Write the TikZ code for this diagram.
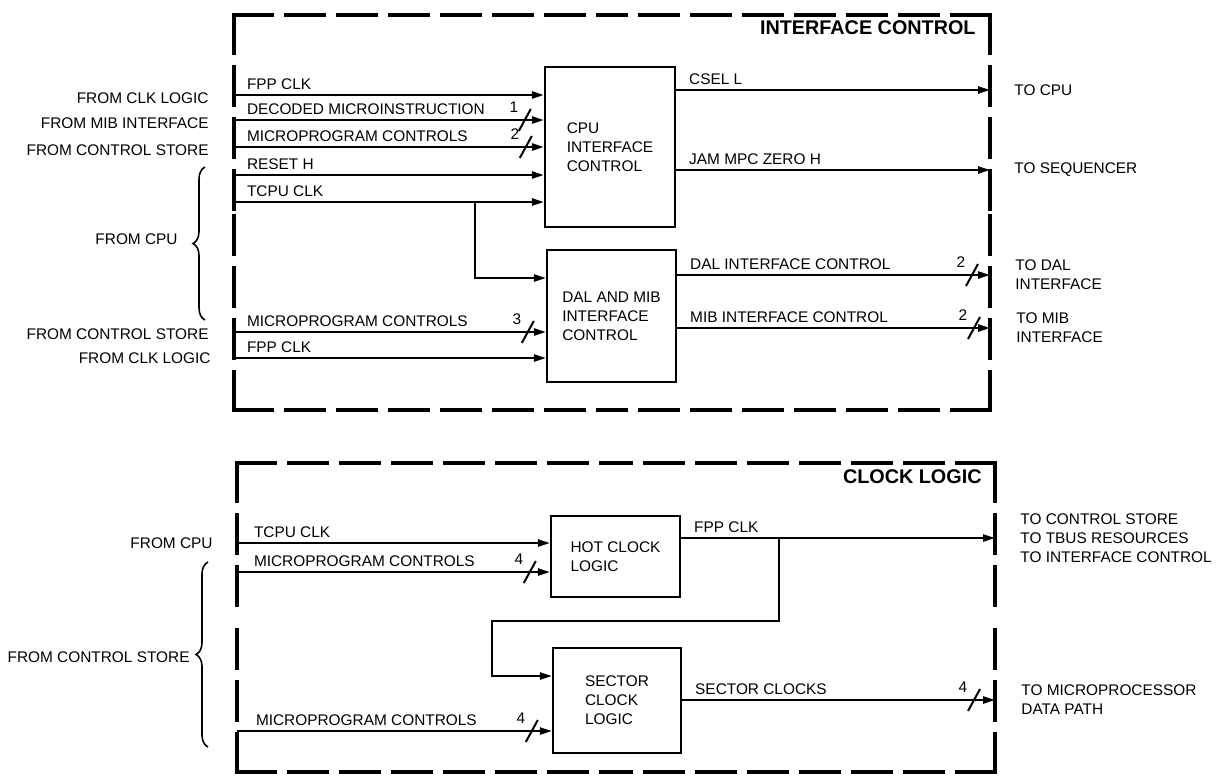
\documentclass[tikz,border=0pt]{standalone}
\usepackage{fontspec}
\setmainfont{Liberation Sans}
\usetikzlibrary{arrows.meta, positioning, calc, decorations.pathreplacing}

\newcommand{\lblfont}{\fontsize{7.7}{9.5}\selectfont}
\newcommand{\ttlfont}{\fontsize{9.9}{12}\selectfont\bfseries}

\begin{document}
\begin{tikzpicture}[x=0.5pt, y=-0.5pt,
  blk/.style={draw, line width=1.2pt, align=left, font=\lblfont, inner sep=0pt},
  frame/.style={line width=1.6pt, line cap=rect, dash pattern=on 19pt off 7pt},
  arr/.style={-{Triangle[length=6pt,width=3.6pt]}, line width=1pt},
  sig/.style={font=\lblfont, pos=0, anchor=base west, xshift=6pt, yshift=3pt, inner sep=0pt},
  src/.style={font=\lblfont, anchor=east, inner sep=0pt},
  dst/.style={font=\lblfont, anchor=west, align=left, inner sep=0pt},
  ttl/.style={font=\ttlfont, anchor=east, inner sep=0pt},
  num/.style={font=\lblfont, inner sep=0pt},
  brc/.style={decorate, decoration={brace, amplitude=6pt}, line width=0.8pt},
  pics/bus/.style={code={
    \draw[line width=1pt] (-6,11) -- (6,-11);
    \node[num] (-n) at (-11,-13) {#1};}},
]
\useasboundingbox (0,0) rectangle (1220,782);

% Interface control
\coordinate (ifNW) at (234,15);
\coordinate (ifNE) at (990,15);
\coordinate (ifSE) at (990,410);
\coordinate (ifSW) at (234,410);
\foreach \c/\a/\b in {ifNW/ifNE/ifSW, ifNE/ifNW/ifSE, ifSE/ifNE/ifSW, ifSW/ifNW/ifSE} {
  \draw[frame] (\c) -- ($(\c)!.5!(\a)$);
  \draw[frame] (\c) -- ($(\c)!.5!(\b)$);
}
\node[ttl] (ifttl) at (976,28) {INTERFACE CONTROL};

\node[blk, minimum width=65pt, minimum height=80pt] (cpuif) at (610,147) {CPU\\INTERFACE\\CONTROL};
\node[blk, minimum width=64.5pt, minimum height=66pt] (dalmib) at (611.5,316) {DAL AND MIB\\INTERFACE\\CONTROL};

% inputs
\coordinate (inFPP) at (234,95);
\coordinate (inDEC) at (234,120);
\coordinate (inMPC) at (234,147);
\coordinate (inRST) at (234,175);
\coordinate (inTCPU) at (234,202);
\coordinate (inMPCd) at (234,332);
\coordinate (inFPPd) at (234,358);

\draw[arr] (inFPP) -- node[sig] (sFPP) {FPP CLK} (cpuif.west |- inFPP);
\draw[arr] (inDEC) -- node[sig] (sDEC) {DECODED MICROINSTRUCTION} (cpuif.west |- inDEC);
\draw[arr] (inMPC) -- node[sig] (sMPC) {MICROPROGRAM CONTROLS} (cpuif.west |- inMPC);
\draw[arr] (inRST) -- node[sig] (sRST) {RESET H} (cpuif.west |- inRST);
\draw[arr] (inTCPU) -- node[sig] (sTCPU) {TCPU CLK} (cpuif.west |- inTCPU);
\draw[arr] (inMPCd) -- node[sig] (sMPCd) {MICROPROGRAM CONTROLS} (dalmib.west |- inMPCd);
\draw[arr] (inFPPd) -- node[sig] (sFPPd) {FPP CLK} (dalmib.west |- inFPPd);

% TCPU CLK branch to DAL/MIB
\coordinate (tapT) at (475,202);
\coordinate (tapY) at (0,278);
\draw[arr] (tapT) |- (dalmib.west |- tapY);

\pic (b1) at ($(cpuif.west |- inDEC)+(-19,0)$) {bus=1};
\pic (b2) at ($(cpuif.west |- inMPC)+(-18,0)$) {bus=2};
\pic (b3) at ($(dalmib.west |- inMPCd)+(-18,0)$) {bus=3};

\node[src, left=12.5pt of inFPP, yshift=-1.5pt] (fCLK) {FROM CLK LOGIC};
\node[src, left=12.5pt of inDEC, yshift=-1.5pt] (fMIB) {FROM MIB INTERFACE};
\node[src, left=12.5pt of inMPC, yshift=-1.5pt] (fCS) {FROM CONTROL STORE};
\node[src, left=12.5pt of inMPCd, yshift=-1pt] (fCSd) {FROM CONTROL STORE};
\node[src, left=11.5pt of inFPPd] (fCLKd) {FROM CLK LOGIC};

\coordinate (brTop) at (205,167);
\coordinate (brBot) at (205,320);
\draw[brc] (brBot) -- (brTop);
\node[src] (fCPU) at (178,239) {FROM CPU};

% outputs
\coordinate (oCSEL) at (990,90);
\coordinate (oJAM) at (990,170);
\coordinate (oDAL) at (990,275);
\coordinate (oMIB) at (990,328);

\draw[arr] (cpuif.east |- oCSEL) -- node[sig] (sCSEL) {CSEL L} (oCSEL);
\draw[arr] (cpuif.east |- oJAM) -- node[sig] (sJAM) {JAM MPC ZERO H} (oJAM);
\draw[arr] (dalmib.east |- oDAL) -- node[sig] (sDAL) {DAL INTERFACE CONTROL} (oDAL);
\draw[arr] (dalmib.east |- oMIB) -- node[sig] (sMIB) {MIB INTERFACE CONTROL} (oMIB);

\pic (b4) at ($(oDAL)+(-18,0)$) {bus=2};
\pic (b5) at ($(oMIB)+(-16,0)$) {bus=2};

\node[dst, right=12pt of oCSEL] (tCPU) {TO CPU};
\node[dst, right=12pt of oJAM] (tSEQ) {TO SEQUENCER};
\node[dst, right=12.5pt of oDAL] (tDAL) {TO DAL\\INTERFACE};
\node[dst, right=13pt of oMIB] (tMIB) {TO MIB\\INTERFACE};

% Clock logic
\coordinate (ckNW) at (237,463);
\coordinate (ckNE) at (995,463);
\coordinate (ckSE) at (995,772);
\coordinate (ckSW) at (237,772);
\foreach \c/\a/\b in {ckNW/ckNE/ckSW, ckNE/ckNW/ckSE, ckSE/ckNE/ckSW, ckSW/ckNW/ckSE} {
  \draw[frame] (\c) -- ($(\c)!.5!(\a)$);
  \draw[frame] (\c) -- ($(\c)!.5!(\b)$);
}
\node[ttl] (clkttl) at (982,477) {CLOCK LOGIC};

\node[blk, minimum width=64.5pt, minimum height=40.5pt] (hotclk) at (615.5,556.5) {HOT CLOCK\\LOGIC};
\node[blk, minimum width=64pt, minimum height=52.5pt] (secclk) at (617,700.5) {SECTOR\\CLOCK\\LOGIC};

\coordinate (inTCPUc) at (237,543);
\coordinate (inMPCc) at (237,572);
\coordinate (inMPCs) at (237,731);

\draw[arr] (inTCPUc) -- node[sig, xshift=2pt] (sTCPUc) {TCPU CLK} (hotclk.west |- inTCPUc);
\draw[arr] (inMPCc) -- node[sig, xshift=2pt] (sMPCc) {MICROPROGRAM CONTROLS} (hotclk.west |- inMPCc);
\draw[arr] (inMPCs) -- node[sig, xshift=3pt] (sMPCs) {MICROPROGRAM CONTROLS} (secclk.west |- inMPCs);

\pic (b6) at ($(hotclk.west |- inMPCc)+(-20,0)$) {bus=4};
\pic (b7) at ($(secclk.west |- inMPCs)+(-20,0)$) {bus=4};

\node[src, left=12pt of inTCPUc] (fCPUc) {FROM CPU};
\coordinate (brTopc) at (208,562);
\coordinate (brBotc) at (208,747);
\draw[brc] (brBotc) -- (brTopc);
\node[src] (fCSc) at (190,657) {FROM CONTROL STORE};

\coordinate (oFPP) at (995,538);
\coordinate (oSEC) at (995,700);
\draw[arr] (hotclk.east |- oFPP) -- node[sig] (sFPPo) {FPP CLK} (oFPP);
\draw[arr] (secclk.east |- oSEC) -- node[sig] (sSEC) {SECTOR CLOCKS} (oSEC);
\pic (b8) at ($(oSEC)+(-21,0)$) {bus=4};

% FPP CLK fed back to sector clocks
\coordinate (fbA) at (779,538);
\coordinate (fbB) at (492,621);
\coordinate (fbY) at (0,676);
\draw[arr] (fbA) |- (fbB) |- (secclk.west |- fbY);

\node[dst, right=12.5pt of oFPP] (tCS) {TO CONTROL STORE\\TO TBUS RESOURCES\\TO INTERFACE CONTROL};
\node[dst, right=13pt of oSEC] (tMP) {TO MICROPROCESSOR\\DATA PATH};

\end{tikzpicture}
\end{document}
